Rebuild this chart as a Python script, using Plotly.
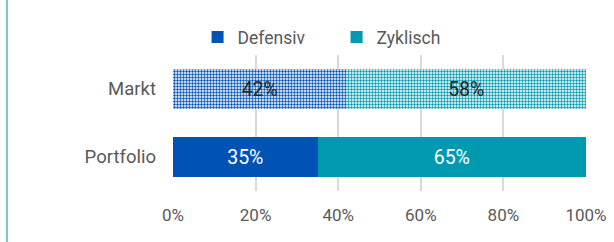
import plotly.graph_objects as go

categories = ["Portfolio", "Markt"]
defensiv = [35, 42]
zyklisch = [65, 58]
tick_vals = [0, 20, 40, 60, 80, 100]
tick_text = ["0%", "20%", "40%", "60%", "80%", "100%"]

C_DEF = "#0052B4"
C_ZYK = "#009AB0"
FONT = "Roboto, Arial"

fig = go.Figure()
for name, vals, col in [("Defensiv", defensiv, C_DEF), ("Zyklisch", zyklisch, C_ZYK)]:
    fig.add_trace(go.Bar(
        name=name, y=categories, x=vals, orientation="h",
        marker=dict(color=col, line=dict(width=0),
                    pattern=dict(shape=["", "."], size=3, solidity=0.5,
                                 fgcolor=col, bgcolor="white", fillmode="replace")),
        text=[f"{v}%" for v in vals], textposition="inside", insidetextanchor="middle",
        textfont=dict(color=["white", "#262626"], size=19.5, family=FONT),
        width=0.59, hoverinfo="skip",
    ))

fig.update_layout(
    barmode="stack", width=614, height=242,
    margin=dict(l=173, r=28, t=55, b=51, autoexpand=False),
    paper_bgcolor="white", plot_bgcolor="white",
    font=dict(family=FONT, color="#595959", size=17),
    showlegend=True,
    legend=dict(orientation="h", x=0.0595, xanchor="left", xref="paper",
                y=0.847, yref="container", yanchor="middle",
                font=dict(size=17.5, color="#595959"),
                itemwidth=30, entrywidth=94, traceorder="normal", borderwidth=0),
    xaxis=dict(range=[0, 100], tickvals=tick_vals, ticktext=tick_text, automargin=False,
               showgrid=True, gridcolor="#D9D9D9", gridwidth=1.5, zeroline=False,
               showline=False, ticks="", ticklabelstandoff=12, fixedrange=True),
    yaxis=dict(showgrid=False, ticks="", ticklabelstandoff=16, automargin=False,
               tickfont=dict(size=18.5), fixedrange=True),
)
fig.add_shape(type="line", xref="paper", yref="paper", x0=-0.402, x1=-0.402, y0=-0.5, y1=1.5,
              line=dict(color="#7EC3DC", width=2))
fig.write_html("out.html", post_script="document.body.style.margin='0';",
               config={"displayModeBar": False})
